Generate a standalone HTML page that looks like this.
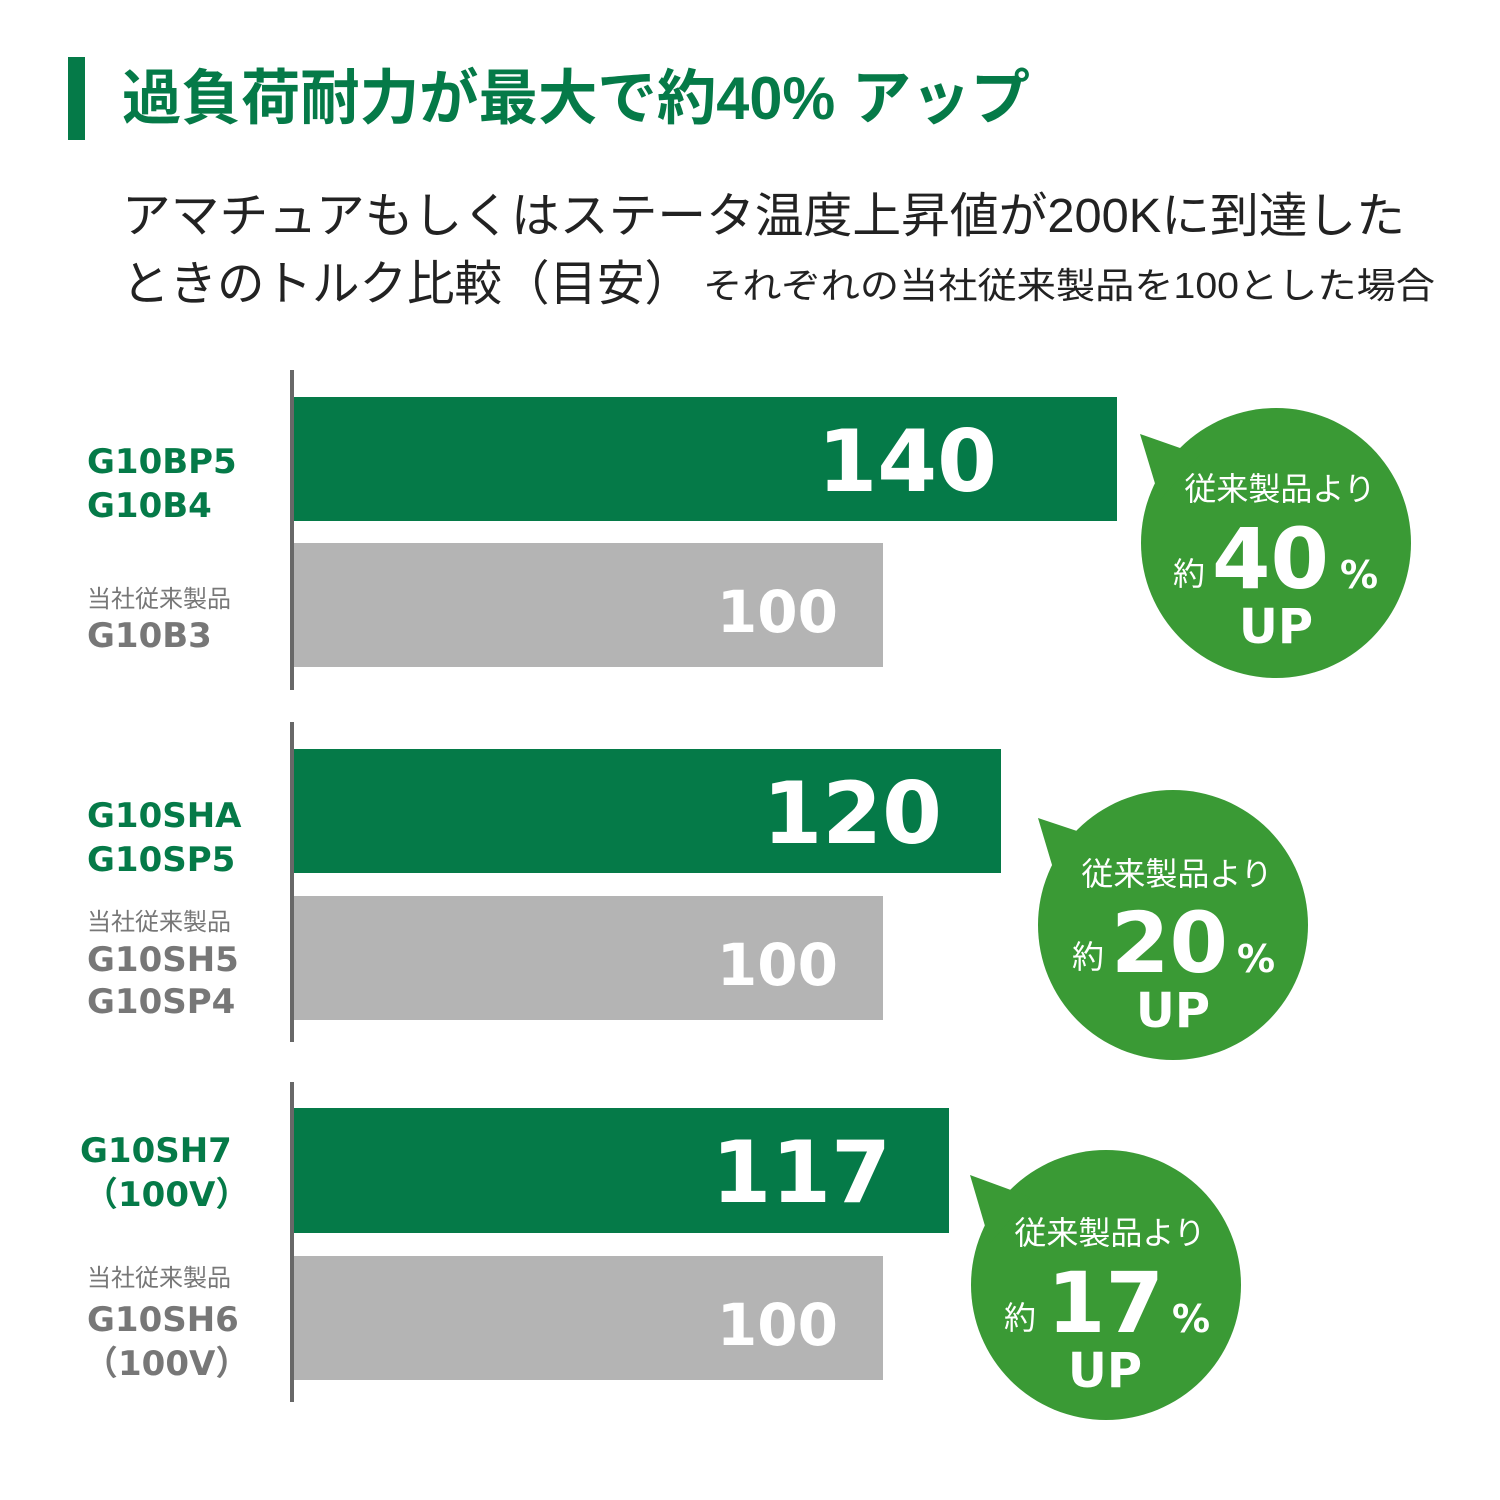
<!DOCTYPE html>
<html><head><meta charset="utf-8"><style>
html,body{margin:0;padding:0;background:#fff;}
svg{display:block;}
text{font-family:"Liberation Sans","Noto Sans CJK JP",sans-serif;}
.d, .d text, text.d{font-family:"DejaVu Sans","Noto Sans CJK JP",sans-serif;font-weight:bold;}
</style></head><body>
<svg width="1500" height="1500" viewBox="0 0 1500 1500" xmlns="http://www.w3.org/2000/svg">
<rect x="68" y="57" width="17" height="83" fill="#057a48"/>
<text x="122" y="119" font-size="60" font-weight="bold" fill="#057a48" textLength="908" lengthAdjust="spacingAndGlyphs">過負荷耐力が最大で約40% アップ</text>
<text x="122" y="232" font-size="48" fill="#222" textLength="1283" lengthAdjust="spacingAndGlyphs">アマチュアもしくはステータ温度上昇値が200Kに到達した</text>
<text x="122" y="300" font-size="48" fill="#222" textLength="570" lengthAdjust="spacingAndGlyphs">ときのトルク比較（目安）</text>
<text x="703" y="298" font-size="36" fill="#222" textLength="732" lengthAdjust="spacingAndGlyphs">それぞれの当社従来製品を100とした場合</text>

<g fill="#686868">
<rect x="290" y="370" width="4" height="320"/>
<rect x="290" y="722" width="4" height="320"/>
<rect x="290" y="1082" width="4" height="320"/>
</g>
<g fill="#057a48">
<rect x="294" y="397" width="823" height="124"/>
<rect x="294" y="749" width="707" height="124"/>
<rect x="294" y="1108" width="655" height="125"/>
</g>
<g fill="#b4b4b4">
<rect x="294" y="543" width="589" height="124"/>
<rect x="294" y="896" width="589" height="124"/>
<rect x="294" y="1256" width="589" height="124"/>
</g>
<g fill="#fff" class="d" text-anchor="end">
<text x="997" y="491" font-size="86">140</text>
<text x="942" y="843" font-size="86">120</text>
<text x="891" y="1202" font-size="86">117</text>
<text x="838" y="632" font-size="58">100</text>
<text x="838" y="985" font-size="58">100</text>
<text x="838" y="1345" font-size="58">100</text>
</g>

<g class="d" font-size="34" fill="#057a48">
<text x="87" y="473">G10BP5</text>
<text x="87" y="517">G10B4</text>
<text x="87" y="827">G10SHA</text>
<text x="87" y="871">G10SP5</text>
<text x="80" y="1162">G10SH7</text>
<text x="84" y="1206">（100V）</text>
</g>
<g fill="#777">
<text x="87" y="607" font-size="24">当社従来製品</text>
<text x="87" y="647" font-size="34" class="d">G10B3</text>
<text x="87" y="930" font-size="24">当社従来製品</text>
<text x="87" y="971" font-size="34" class="d">G10SH5</text>
<text x="87" y="1013" font-size="34" class="d">G10SP4</text>
<text x="87" y="1286" font-size="24">当社従来製品</text>
<text x="87" y="1331" font-size="34" class="d">G10SH6</text>
<text x="84" y="1375" font-size="34" class="d">（100V）</text>
</g>

<g fill="#3a9a35">
<circle cx="1276" cy="543" r="135"/>
<polygon points="1140,434 1200,455 1160,500"/>
<circle cx="1173" cy="925" r="135"/>
<polygon points="1038,818 1098,838 1058,885"/>
<circle cx="1106" cy="1285" r="135"/>
<polygon points="970,1175 1030,1197 990,1243"/>
</g>
<g fill="#fff">
<text x="1280" y="500" font-size="32" text-anchor="middle">従来製品より</text>
<text x="1276" y="643" font-size="48" class="d" text-anchor="middle">UP</text>
<text x="1173" y="585" font-size="32">約</text>
<text x="1212" y="588" font-size="84" class="d">40</text>
<text x="1340" y="588" font-size="38" class="d">%</text>

<text x="1177" y="885" font-size="32" text-anchor="middle">従来製品より</text>
<text x="1173" y="1027" font-size="48" class="d" text-anchor="middle">UP</text>
<text x="1072" y="968" font-size="32">約</text>
<text x="1111" y="972" font-size="84" class="d">20</text>
<text x="1237" y="972" font-size="38" class="d">%</text>

<text x="1110" y="1244" font-size="32" text-anchor="middle">従来製品より</text>
<text x="1105" y="1387" font-size="48" class="d" text-anchor="middle">UP</text>
<text x="1004" y="1329" font-size="32">約</text>
<text x="1047" y="1332" font-size="84" class="d">17</text>
<text x="1172" y="1332" font-size="38" class="d">%</text>
</g>
</svg>
</body></html>
